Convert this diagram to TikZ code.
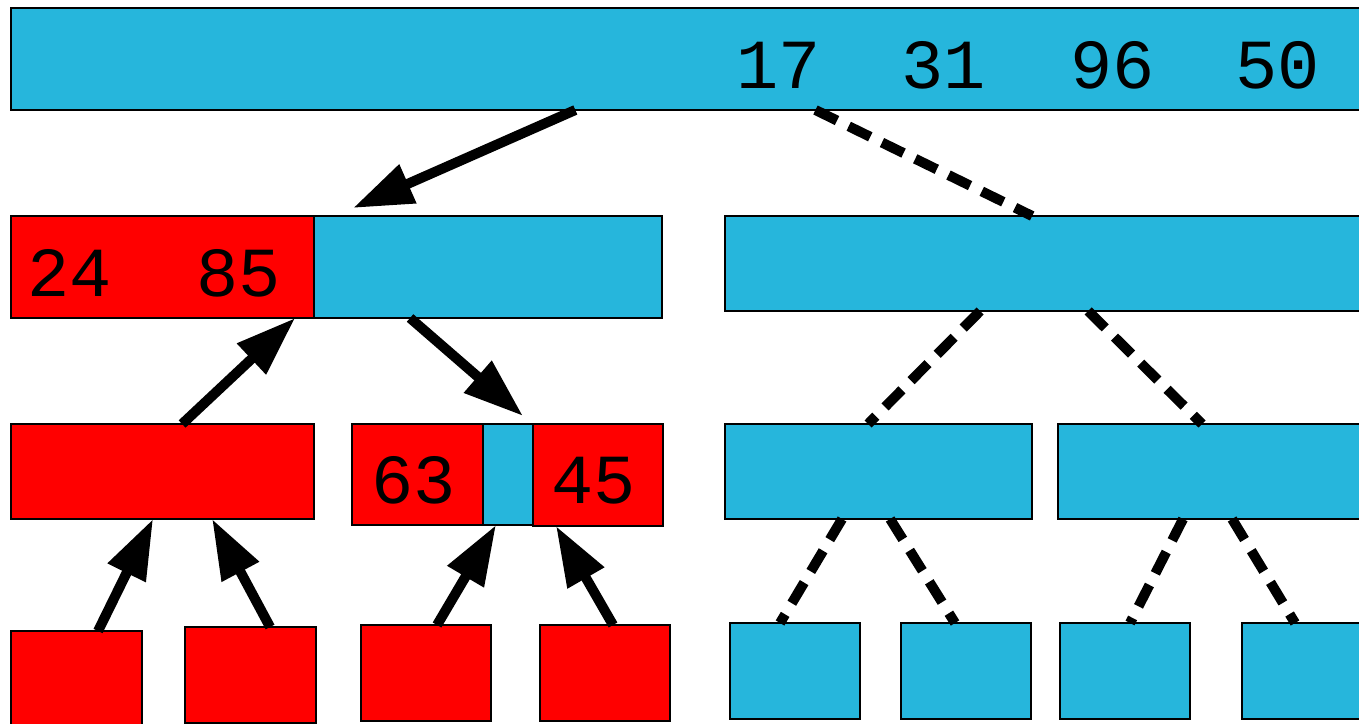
\documentclass[tikz,border=0pt]{standalone}
\usepackage{fontspec}
\newfontfamily\digitfont{Liberation Mono}
\usetikzlibrary{arrows.meta}
\definecolor{cellblue}{RGB}{38,182,220}
\definecolor{cellred}{RGB}{255,0,0}
% a filled cell given by its corners (x1,y1) and (x2,y2), in pixels, y downwards
\newcommand\cell[6]{%
  \node[cellbox, fill=#6, minimum width={(#4-#2)*0.01cm}, minimum height={(#5-#3)*0.01cm},
        anchor=north west] (#1) at (#2,#3) {};}
\begin{document}
\begin{tikzpicture}[x=0.01cm, y=-0.01cm,
  cellbox/.style={draw=black, line width=0.5pt, rectangle, inner sep=0pt, outer sep=0pt},
  num/.style={font=\digitfont\fontsize{20pt}{24pt}\selectfont, inner sep=0pt, anchor=base},
  solidarrow/.style={line width=0.1cm, -{Triangle[length=0.6cm, width=0.4cm]}},
  dashlink/.style={line width=0.1cm, dash pattern=on 0.24cm off 0.13cm}]
  \useasboundingbox (0,0) rectangle (1359,724);
  \clip (0,0) rectangle (1359,724);

  % root
  \cell{top}{11}{8}{1370}{110}{cellblue}
  % second level
  \cell{La}{11}{216}{314}{318}{cellred}
  \cell{Lb}{314}{216}{662}{318}{cellblue}
  \cell{R2}{725}{216}{1370}{311}{cellblue}
  % third level
  \cell{L3}{11}{424}{314}{519}{cellred}
  \cell{Ma}{352}{424}{483}{525}{cellred}
  \cell{Mb}{483}{424}{533}{525}{cellblue}
  \cell{Mc}{533}{424}{663}{526}{cellred}
  \cell{Ra}{725}{424}{1032}{519}{cellblue}
  \cell{Rb}{1058}{424}{1370}{519}{cellblue}
  % leaves
  \cell{la}{11}{631}{142}{730}{cellred}
  \cell{lb}{185}{627}{316}{723}{cellred}
  \cell{lc}{361}{625}{491}{721}{cellred}
  \cell{ld}{540}{625}{670}{721}{cellred}
  \cell{le}{730}{623}{860}{719}{cellblue}
  \cell{lf}{901}{623}{1031}{719}{cellblue}
  \cell{lg}{1060}{623}{1190}{719}{cellblue}
  \cell{lh}{1242}{623}{1370}{719}{cellblue}

  % keys
  \node[num] (k17) at (779,88) {17};
  \node[num] (k31) at (944,88) {31};
  \node[num] (k96) at (1113,88) {96};
  \node[num] (k50) at (1278,88) {50};
  \node[num] (k24) at (70,296) {24};
  \node[num] (k85) at (239,296) {85};
  \node[num] (k63) at (414,503) {63};
  \node[num] (k45) at (594,503) {45};

  % solid arrows
  \draw[solidarrow] ([xshift=5.64cm]top.south west) -- ([xshift=0.39cm, yshift=0.08cm]Lb.north west);
  \draw[solidarrow] ([xshift=1.71cm]L3.north west) -- ([xshift=2.84cm]La.south west);
  \draw[solidarrow] ([xshift=0.96cm]Lb.south west) -- ([xshift=0.40cm, yshift=0.08cm]Mb.north west);
  \draw[solidarrow] ([xshift=0.87cm]la.north west) -- ([xshift=1.42cm]L3.south west);
  \draw[solidarrow] ([xshift=0.85cm]lb.north west) -- ([xshift=2.01cm]L3.south west);
  \draw[solidarrow] ([xshift=0.76cm]lc.north west) -- ([xshift=0.13cm]Mb.south west);
  \draw[solidarrow] ([xshift=0.73cm]ld.north west) -- ([xshift=0.23cm]Mc.south west);

  % dashed links
  \draw[dashlink] ([xshift=8.04cm]top.south west) -- ([xshift=3.07cm]R2.north west);
  \draw[dashlink] ([xshift=2.55cm]R2.south west) -- ([xshift=1.43cm]Ra.north west);
  \draw[dashlink] ([xshift=3.63cm]R2.south west) -- ([xshift=1.44cm]Rb.north west);
  \draw[dashlink] ([xshift=1.17cm]Ra.south west) -- ([xshift=0.50cm]le.north west);
  \draw[dashlink] ([xshift=1.65cm]Ra.south west) -- ([xshift=0.54cm]lf.north west);
  \draw[dashlink] ([xshift=1.25cm]Rb.south west) -- ([xshift=0.70cm]lg.north west);
  \draw[dashlink] ([xshift=1.74cm]Rb.south west) -- ([xshift=0.53cm]lh.north west);
\end{tikzpicture}
\end{document}
